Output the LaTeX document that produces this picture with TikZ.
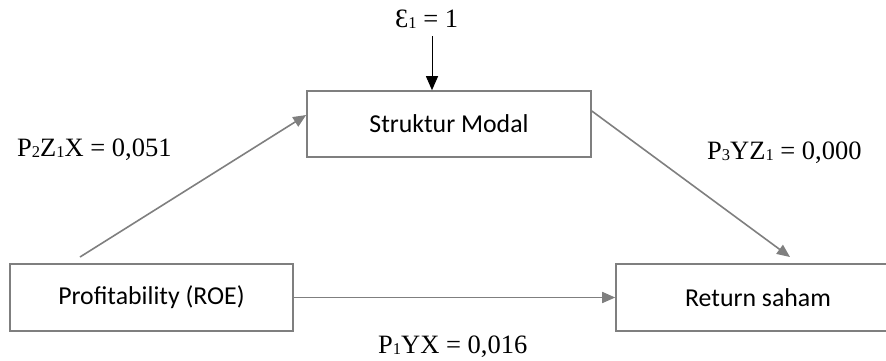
\documentclass[tikz,border=0pt]{standalone}
\usepackage{fontspec}
\setmainfont{Liberation Serif}
\newfontfamily\boxfont{Carlito}
\usetikzlibrary{arrows.meta,calc}
\newcommand{\lsub}[1]{{\fontsize{16.5}{16.5}\selectfont\raisebox{-1.5pt}{#1}}}
\definecolor{linegray}{HTML}{7F7F7F}
\tikzset{
  box/.style={draw=linegray, line width=1.6pt, rectangle, inner sep=0pt,
    font=\boxfont\fontsize{25.8}{30}\selectfont},
  path/.style={draw=linegray, line width=1.6pt, -{Triangle[length=13pt,width=11pt]}},
  errarrow/.style={draw=black, line width=1pt, -{Triangle[length=14pt,width=12pt]}},
  coef/.style={font=\fontsize{26.5}{30}\selectfont, inner sep=0pt}
}
\begin{document}
\begin{tikzpicture}[x=1pt,y=-1pt]
\useasboundingbox (0,0) rectangle (886,360);
\node[box, minimum width=284pt, minimum height=66pt] (SM) at (449,124) {Struktur Modal};
\node[box, minimum width=283pt, minimum height=67pt] (PR) at (151.5,297.5) {Profitability (ROE)};
\node[box, minimum width=284pt, minimum height=67pt] (RS) at (758,297.5) {Return saham};

\coordinate (a1) at (80,257);
\coordinate (b1) at (790,257);
\coordinate (e1) at (432,36);

\draw[path] (a1) -- ($(SM.west)+(0,-9)$);
\draw[path] ($(SM.east)+(0,-13)$) -- (b1);
\draw[path] (PR.east) -- (RS.west);
\draw[errarrow] (e1) -- (e1 |- SM.north);

\node[coef, anchor=base west] (eps) at (395,27) {Ɛ\lsub{1} = 1};
\node[coef, anchor=base west] (l1) at (17,156) {P\lsub{2}Z\lsub{1}X = 0,051};
\node[coef, anchor=base west] (l2) at (707,159) {P\lsub{3}YZ\lsub{1} = 0,000};
\node[coef, anchor=base west] (l3) at (378,353) {P\lsub{1}YX = 0,016};
\end{tikzpicture}
\end{document}
